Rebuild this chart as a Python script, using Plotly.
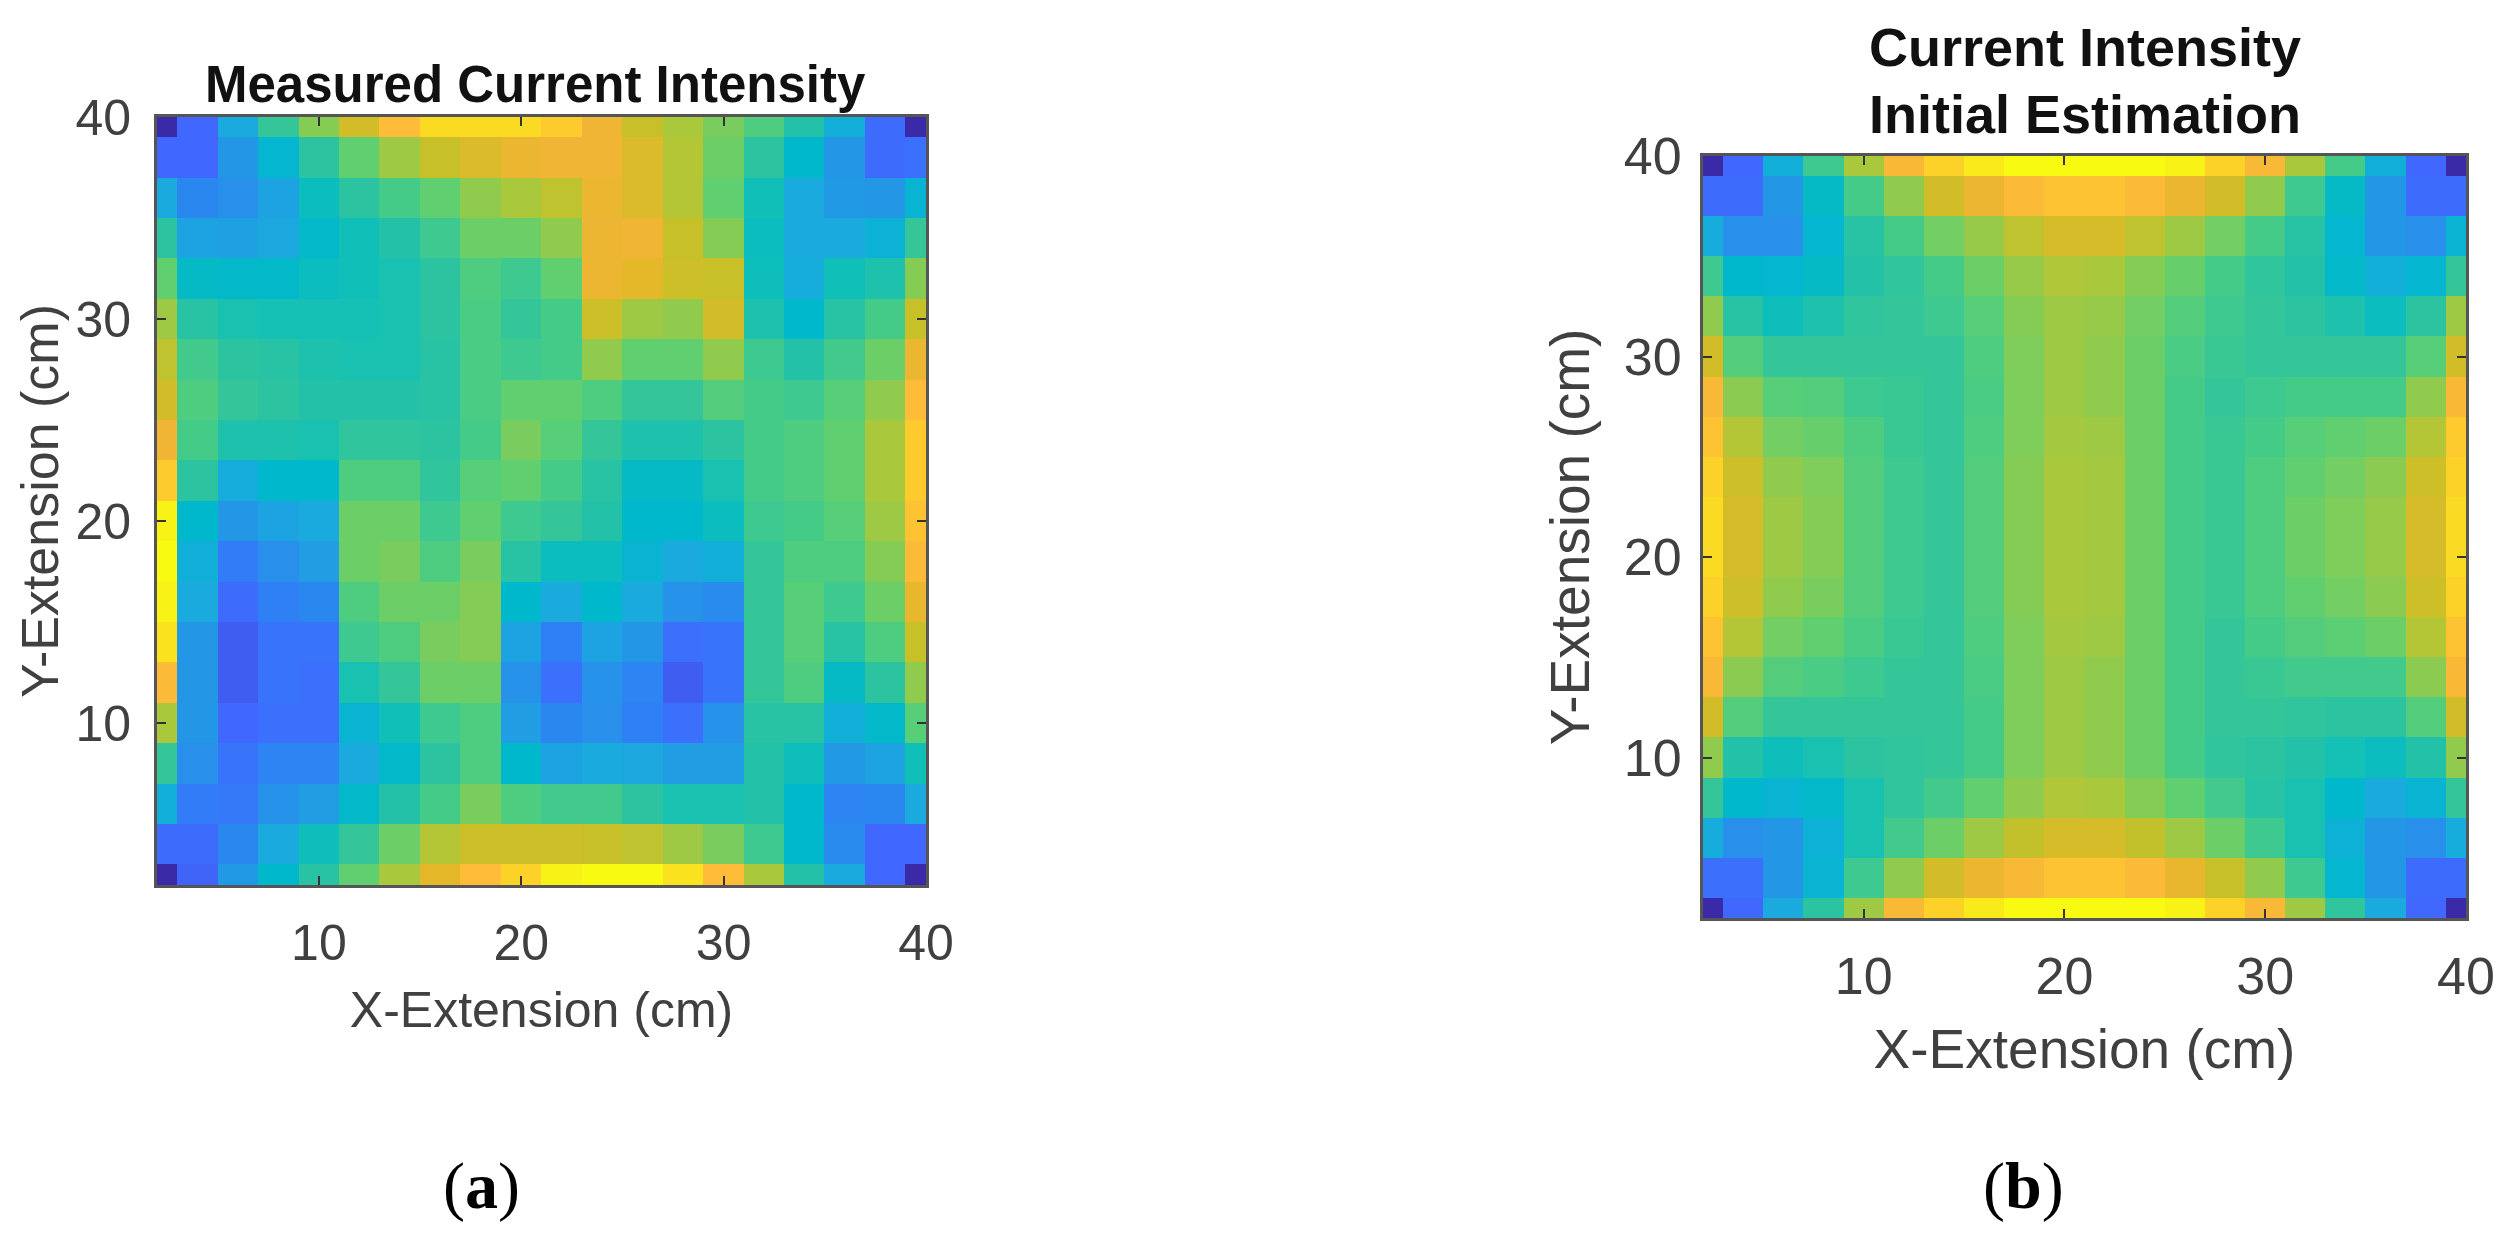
import plotly.graph_objects as go

x_cm = list(range(2, 41, 2))
y_cm = list(range(40, 0, -2))
tick_vals = [10, 20, 30, 40]

measured = [
 [0,12,30,50,66,80,92,96,96,96,94,88,78,72,64,56,46,32,13,0],
 [12,12,24,35,48,60,70,78,82,86,88,88,82,74,62,48,36,24,13,14],
 [30,20,22,28,40,48,54,60,68,72,76,86,82,74,60,42,30,25,24,34],
 [48,28,27,29,37,42,46,52,62,62,68,87,88,78,66,40,30,30,33,50],
 [60,38,37,37,40,42,44,48,56,52,60,87,84,79,78,41,31,42,45,66],
 [70,47,44,43,43,43,44,48,55,50,54,79,70,68,80,45,36,47,54,78],
 [76,53,48,47,45,44,44,47,55,52,54,68,60,60,68,52,46,53,62,86],
 [80,56,50,48,46,46,46,47,55,60,60,56,50,50,57,54,52,58,68,92],
 [88,54,45,45,44,49,49,48,54,64,58,50,45,45,48,54,56,60,72,94],
 [94,48,31,36,36,56,56,49,58,60,54,47,38,38,44,54,56,60,72,94],
 [99,36,24,28,30,62,62,52,60,52,50,46,36,36,40,52,54,58,70,93],
 [100,32,17,22,26,62,64,56,64,47,40,40,34,30,32,50,56,56,66,91],
 [99,30,13,18,20,56,62,62,66,36,30,36,30,23,21,50,58,52,62,85],
 [97,24,10,15,15,52,56,64,66,28,18,28,24,14,15,50,58,47,56,78],
 [91,24,10,15,14,44,50,62,62,23,14,23,19,10,15,50,56,38,48,68],
 [72,24,12,14,14,34,42,52,56,26,20,22,18,14,23,47,47,32,37,58],
 [50,22,15,19,19,30,37,48,56,36,28,30,29,26,26,46,41,25,28,42],
 [32,17,16,23,26,37,46,54,64,56,53,53,48,44,44,46,36,19,20,30],
 [13,13,20,30,41,50,62,74,79,79,79,78,76,70,64,52,36,21,12,12],
 [0,11,25,36,47,60,72,84,92,95,99,100,100,97,92,72,46,30,12,0],
]

estimated = [
 [0,12,32,52,72,90,95,98,100,100,100,100,99,95,90,72,54,32,12,0],
 [13,13,24,38,54,68,80,87,91,93,93,91,86,80,68,52,38,24,13,13],
 [31,22,22,35,47,54,63,69,76,81,81,76,70,63,54,47,35,24,22,34],
 [52,36,35,38,46,49,54,62,69,73,72,66,61,54,49,46,37,32,35,50],
 [68,47,41,45,49,50,52,58,66,70,69,63,57,52,50,48,45,40,48,70],
 [80,57,50,50,50,50,50,56,65,70,68,62,55,51,50,50,50,50,58,80],
 [90,67,58,57,52,51,50,55,65,70,68,62,54,50,52,54,54,54,68,90],
 [93,74,63,61,56,51,50,56,65,71,70,62,54,51,54,58,60,62,74,94],
 [95,79,68,65,57,52,50,57,66,72,71,62,54,51,56,60,63,67,79,95],
 [96,81,70,66,57,52,50,57,66,72,71,62,54,51,56,62,65,69,81,96],
 [96,81,70,66,57,52,50,57,66,72,71,62,54,51,56,62,65,69,81,96],
 [95,79,68,64,57,52,50,57,66,72,71,62,54,51,56,60,63,67,79,95],
 [93,74,63,60,55,51,50,56,65,71,70,62,54,50,54,57,59,62,74,93],
 [90,67,57,55,52,50,50,55,65,70,68,62,54,50,51,53,53,53,67,90],
 [80,57,50,50,50,50,50,54,65,70,68,62,54,50,50,49,48,48,57,80],
 [68,46,41,44,48,49,50,54,65,70,68,62,54,49,48,46,43,40,46,68],
 [50,36,34,37,44,49,53,60,68,73,72,66,60,53,47,44,36,30,34,50],
 [31,22,24,33,44,53,62,70,77,81,81,77,70,62,52,44,33,24,22,31],
 [14,14,24,34,52,68,80,86,90,93,93,91,85,78,68,52,35,24,13,13],
 [0,12,30,48,70,90,95,98,100,100,100,100,99,95,90,70,49,30,12,0],
]

colorscale = [
 [0.00, "#3b2aa8"], [0.12, "#4068ff"], [0.18, "#2f80f5"], [0.24, "#2496e6"],
 [0.30, "#1aaade"], [0.36, "#00b8cc"], [0.42, "#10bfb8"], [0.48, "#2cc4a0"],
 [0.54, "#45cb88"], [0.60, "#60cf70"], [0.66, "#85cc55"], [0.72, "#aac83c"],
 [0.78, "#c8c028"], [0.84, "#e5b82a"], [0.88, "#f0b535"], [0.92, "#ffbc38"],
 [0.95, "#fcd228"], [1.00, "#f8fa12"],
]

W, H = 2514, 1233
TEXT = "#404040"
FONT = "Liberation Sans"

fig = go.Figure()
fig.add_trace(go.Heatmap(x=x_cm, y=y_cm, z=measured, xaxis="x", yaxis="y", zmin=0, zmax=100,
                         colorscale=colorscale, showscale=False))
fig.add_trace(go.Heatmap(x=x_cm, y=y_cm, z=estimated, xaxis="x2", yaxis="y2", zmin=0, zmax=100,
                         colorscale=colorscale, showscale=False))

def axis(domain, title, anchor, stand, title_size, tick_size, label_gap):
    return dict(domain=domain, range=[2, 40], anchor=anchor, tickmode="array",
                tickvals=tick_vals, ticks="inside", ticklen=9, tickwidth=2, tickcolor="#333333",
                mirror="ticks", showline=True, linecolor="#555555", linewidth=3, showgrid=False,
                zeroline=False, ticklabelstandoff=label_gap, automargin=False,
                tickfont=dict(family=FONT, size=tick_size, color=TEXT),
                title=dict(text=title, font=dict(family=FONT, size=title_size, color=TEXT), standoff=stand))

def xd(a, b): return [a / W, b / W]
def yd(t, b): return [1 - b / H, 1 - t / H]

def note(text, px, py, family, size, color):
    return dict(text=text, x=px / W, y=1 - py / H, xref="paper", yref="paper", xanchor="center",
                yanchor="middle", showarrow=False, font=dict(family=family, size=size, color=color))

fig.update_layout(
    width=W, height=H, margin=dict(l=0, r=0, t=0, b=0),
    paper_bgcolor="white", plot_bgcolor="white",
    xaxis=axis(xd(157, 926), "X-Extension (cm)", "y", 22, 50, 50, 12),
    yaxis=axis(yd(117, 885), "Y-Extension (cm)", "x", 1, 52, 50, 13),
    xaxis2=axis(xd(1703, 2466), "X-Extension (cm)", "y2", 26, 55, 52, 11),
    yaxis2=axis(yd(156, 918), "Y-Extension (cm)", "x2", 17, 55, 52, 8),
    annotations=[
        note("<b>Measured Current Intensity</b>", 535, 85, FONT, 51, "#111111"),
        note("<b>Current Intensity</b>", 2085, 47, FONT, 54, "#111111"),
        note("<b>Initial Estimation</b>", 2085, 114, FONT, 54, "#111111"),
        note("(<b>a</b>)", 481, 1186, "Liberation Serif", 66, "black"),
        note("(<b>b</b>)", 2023, 1186, "Liberation Serif", 66, "black"),
    ],
)

fig.write_html("out.html", config=dict(displayModeBar=False),
               post_script="document.body.style.margin='0';document.body.style.overflow='hidden';")
